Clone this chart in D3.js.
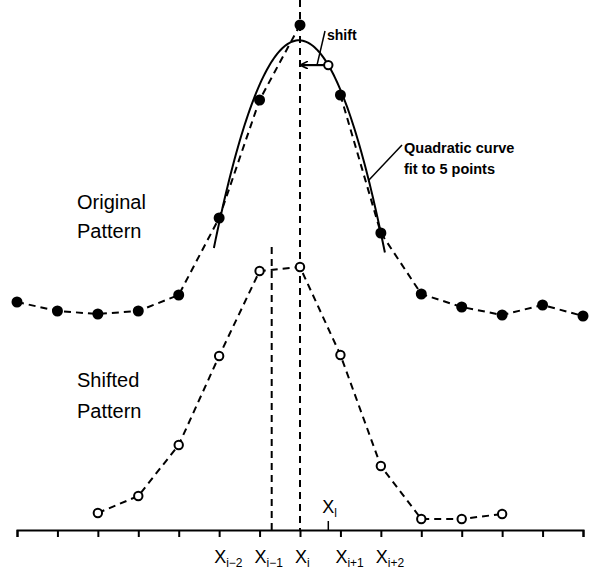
<!DOCTYPE html>
<html><head><meta charset="utf-8">
<script src="https://cdn.jsdelivr.net/npm/d3@7/dist/d3.min.js"></script>
<style>
html,body{margin:0;padding:0;background:#fff;}
svg{display:block;}
text{font-family:"Liberation Sans",Arial,sans-serif;fill:#000;}
</style></head>
<body>
<svg id="chart" width="591" height="570"></svg>
<script>
// ---- data ----
const tickIndex = [0,1,2,3,4,5,6,7,8,9,10,11,12,13,14];
const originalIndex = [0,1,2,3,4,5,6,7,8,9,10,11,12,13,14];
const originalValues = [45.6,43.8,43.2,43.8,47,62.4,86,101,87,59.4,47.2,44.6,43,45,42.8];
const shiftedIndex = [2,3,4,5,6,7,8,9,10,11,12];
const shiftedValues = [3.4,6.8,17,34.8,51.8,52.6,35,12.8,2.2,2.2,3.2];
const labelIndex = [5,6,7,8,9];
const labelSubs = ["i\u22122","i\u22121","i","i+1","i+2"];
const centerIndex = 7;          // X_i
const shiftedCenterIndex = 6.3; // peak of shifted pattern
const shiftedPointIndex = 7.7;  // X_l (shifted position on fit)

const svg = d3.select("#chart");
const x = d3.scaleLinear().domain([0,14]).range([17,583]);
const y = d3.scaleLinear().domain([0,100]).range([530,30]);
const DASH = "7,5";

// ---- quadratic least-squares fit to the 5 points around centre ----
const fitIdx = [5,6,7,8,9];
const ts = fitIdx.map(i => i - centerIndex);
const ys = fitIdx.map(i => originalValues[originalIndex.indexOf(i)]);
const mean = d3.mean(ys);
const b = d3.sum(ts.map((t,k)=>t*ys[k])) / d3.sum(ts.map(t=>t*t));
const p2 = ts.map(t=>t*t-2);
const c = d3.sum(p2.map((p,k)=>p*ys[k])) / d3.sum(p2.map(p=>p*p));
const fit = i => { const t = i - centerIndex; return mean + b*t + c*(t*t-2); };

// ---- axis ----
const axis = d3.axisBottom(x).tickValues(tickIndex).tickSize(7).tickSizeOuter(7).tickFormat("");
const gA = svg.append("g").attr("transform","translate(0,530)").call(axis);
gA.selectAll("path,line").attr("stroke","#000").attr("stroke-width",2);

// axis labels
labelIndex.forEach((idx,k)=>{
  const t = svg.append("text").attr("x", x(idx)-5).attr("y",563).attr("font-size",18);
  t.append("tspan").text("X");
  t.append("tspan").attr("font-size",12).attr("dy",4).text(labelSubs[k]);
});

// ---- vertical dashed lines ----
svg.append("line").attr("x1",x(centerIndex)).attr("x2",x(centerIndex)).attr("y1",0).attr("y2",530)
  .attr("stroke","#000").attr("stroke-width",2).attr("stroke-dasharray",DASH);
svg.append("line").attr("x1",x(shiftedCenterIndex)).attr("x2",x(shiftedCenterIndex)).attr("y1",247).attr("y2",530)
  .attr("stroke","#000").attr("stroke-width",2).attr("stroke-dasharray",DASH);

// small tick at X_l
svg.append("line").attr("x1",x(shiftedPointIndex)).attr("x2",x(shiftedPointIndex)).attr("y1",521).attr("y2",530)
  .attr("stroke","#000").attr("stroke-width",1.5);
{
  const t = svg.append("text").attr("x", x(shiftedPointIndex)-6).attr("y",513).attr("font-size",18);
  t.append("tspan").text("X");
  t.append("tspan").attr("font-size",12).attr("dy",4).text("l");
}

// ---- dashed pattern lines ----
const line = d3.line().x(d=>x(d[0])).y(d=>y(d[1]));
const orig = originalIndex.map((i,k)=>[i,originalValues[k]]);
const segs = [orig.filter(d=>d[0]<=7), orig.filter(d=>d[0]>=8)];
segs.forEach(s=>{
  svg.append("path").attr("d",line(s)).attr("fill","none").attr("stroke","#000")
    .attr("stroke-width",2).attr("stroke-dasharray",DASH);
});
const shf = shiftedIndex.map((i,k)=>[i,shiftedValues[k]]);
svg.append("path").attr("d",line(shf)).attr("fill","none").attr("stroke","#000")
  .attr("stroke-width",2).attr("stroke-dasharray",DASH);

// ---- quadratic solid curve ----
const curvePts = d3.range(0,101).map(k=>{ const i = 4.87 + (9.1-4.87)*k/100; return [i, fit(i)]; });
svg.append("path").attr("d",line(curvePts)).attr("fill","none")
  .attr("stroke","#000").attr("stroke-width",2);

// ---- markers ----
svg.selectAll("circle.orig").data(orig).join("circle").attr("class","orig")
  .attr("cx",d=>x(d[0])).attr("cy",d=>y(d[1])).attr("r",5.5).attr("fill","#000");
svg.selectAll("circle.shf").data(shf).join("circle").attr("class","shf")
  .attr("cx",d=>x(d[0])).attr("cy",d=>y(d[1])).attr("r",4.2)
  .attr("fill","#fff").attr("stroke","#000").attr("stroke-width",2);

// ---- shift arrow ----
const ay = y(fit(shiftedPointIndex));
svg.append("defs").append("marker").attr("id","arr").attr("viewBox","0 0 10 10")
  .attr("refX",9).attr("refY",5).attr("markerWidth",8).attr("markerHeight",8).attr("orient","auto")
  .attr("markerUnits","userSpaceOnUse")
  .append("path").attr("d","M0,0L10,5L0,10").attr("fill","none").attr("stroke","#000").attr("stroke-width",2);
svg.append("line").attr("x1",x(shiftedPointIndex)-4).attr("x2",x(centerIndex)+1).attr("y1",ay).attr("y2",ay)
  .attr("stroke","#000").attr("stroke-width",2.2).attr("marker-end","url(#arr)");
svg.append("circle").attr("cx",x(shiftedPointIndex)).attr("cy",ay).attr("r",4.2)
  .attr("fill","#fff").attr("stroke","#000").attr("stroke-width",2);
svg.append("line").attr("x1",317).attr("y1",ay).attr("x2",325).attr("y2",31)
  .attr("stroke","#000").attr("stroke-width",1.5);
svg.append("text").attr("x",327).attr("y",40).attr("font-size",14).attr("font-weight","bold").text("shift");

// ---- quadratic label ----
const qi = 8.7;
svg.append("line").attr("x1",x(qi)).attr("y1",y(fit(qi))).attr("x2",402).attr("y2",145)
  .attr("stroke","#000").attr("stroke-width",1.5);
svg.append("text").attr("x",404).attr("y",153).attr("font-size",14.5).attr("font-weight","bold").text("Quadratic curve");
svg.append("text").attr("x",404).attr("y",174).attr("font-size",14.5).attr("font-weight","bold").text("fit to 5 points");

// ---- pattern labels ----
svg.append("text").attr("x",77).attr("y",209).attr("font-size",20).text("Original");
svg.append("text").attr("x",77).attr("y",238).attr("font-size",20).text("Pattern");
svg.append("text").attr("x",77).attr("y",387).attr("font-size",20).text("Shifted");
svg.append("text").attr("x",77).attr("y",418).attr("font-size",20).text("Pattern");
</script>
</body></html>
